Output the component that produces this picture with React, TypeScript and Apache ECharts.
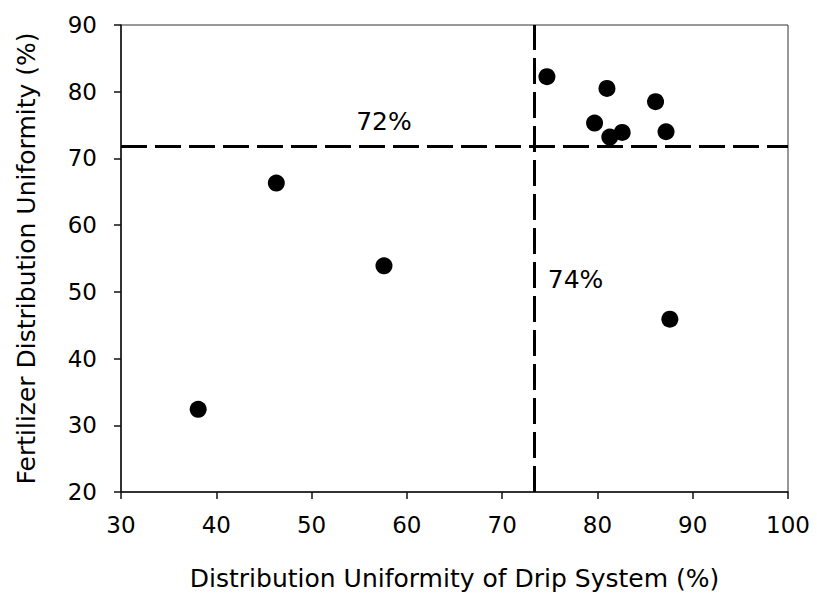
import React, { useEffect, useRef } from "react";
import * as echarts from "echarts";

const dripDU = [38.1, 46.3, 57.6, 74.7, 81.0, 86.1, 79.7, 82.6, 81.3, 87.2, 87.6];
const fertDU = [32.4, 66.3, 53.9, 82.25, 80.5, 78.5, 75.3, 73.9, 73.2, 74.0, 45.9];
const thresholdX = 73.4;
const thresholdY = 71.8;
const annotations: [number, number, string][] = [
  [57.6, 75.6, "72%"],
  [77.7, 51.8, "74%"],
];
const xTicks = { min: 30, max: 100, interval: 10 };
const yTicks = { min: 20, max: 90, interval: 10 };

const FONT = "DejaVu Sans";

export default function App() {
  const ref = useRef<HTMLDivElement>(null);
  useEffect(() => {
    if (!ref.current) return;
    const chart = echarts.init(ref.current, undefined, { renderer: "svg" });
    const points = dripDU.map((x, i) => [x, fertDU[i]]);
    chart.setOption({
      animation: false,
      backgroundColor: "#ffffff",
      grid: { left: 121, right: 29, top: 25, bottom: 104, show: true, borderColor: "#333", borderWidth: 1 },
      xAxis: {
        type: "value",
        min: xTicks.min,
        max: xTicks.max,
        interval: xTicks.interval,
        name: "Distribution Uniformity of Drip System (%)",
        nameLocation: "middle",
        nameGap: 74,
        nameTextStyle: { fontFamily: FONT, fontSize: 25, color: "#000" },
        axisLine: { show: true, lineStyle: { color: "#111", width: 1.5 } },
        axisTick: { show: true, inside: false, length: 7, lineStyle: { color: "#111", width: 1.5 } },
        axisLabel: { fontFamily: FONT, fontSize: 23, color: "#000", margin: 21 },
        splitLine: { show: false },
      },
      yAxis: {
        type: "value",
        min: yTicks.min,
        max: yTicks.max,
        interval: yTicks.interval,
        name: "Fertilizer Distribution Uniformity (%)",
        nameLocation: "middle",
        nameGap: 82,
        nameTextStyle: { fontFamily: FONT, fontSize: 25, color: "#000" },
        axisLine: { show: true, lineStyle: { color: "#111", width: 1.5 } },
        axisTick: { show: true, inside: false, length: 7, lineStyle: { color: "#111", width: 1.5 } },
        axisLabel: { fontFamily: FONT, fontSize: 23, color: "#000", margin: 24 },
        splitLine: { show: false },
      },
      series: [
        {
          type: "scatter",
          data: points,
          symbol: "circle",
          symbolSize: 17,
          itemStyle: { color: "#000", opacity: 1 },
          markLine: {
            silent: true,
            symbol: ["none", "none"],
            label: { show: false },
            lineStyle: { color: "#000", width: 3, type: [26, 8], opacity: 1 },
            data: [{ xAxis: thresholdX }, { yAxis: thresholdY }],
          },
          z: 3,
        },
        {
          type: "scatter",
          data: annotations.map((a) => ({ value: [a[0], a[1]], name: a[2] })),
          symbolSize: 0,
          silent: true,
          itemStyle: { opacity: 1 },
          label: {
            show: true,
            position: "inside",
            formatter: (p: any) => p.name,
            fontFamily: FONT,
            fontSize: 25,
            color: "#000",
          },
        },
      ],
    });
    return () => chart.dispose();
  }, []);
  return (
    <div
      ref={ref}
      style={{ position: "absolute", left: 0, top: 0, width: 817, height: 596 }}
    />
  );
}
